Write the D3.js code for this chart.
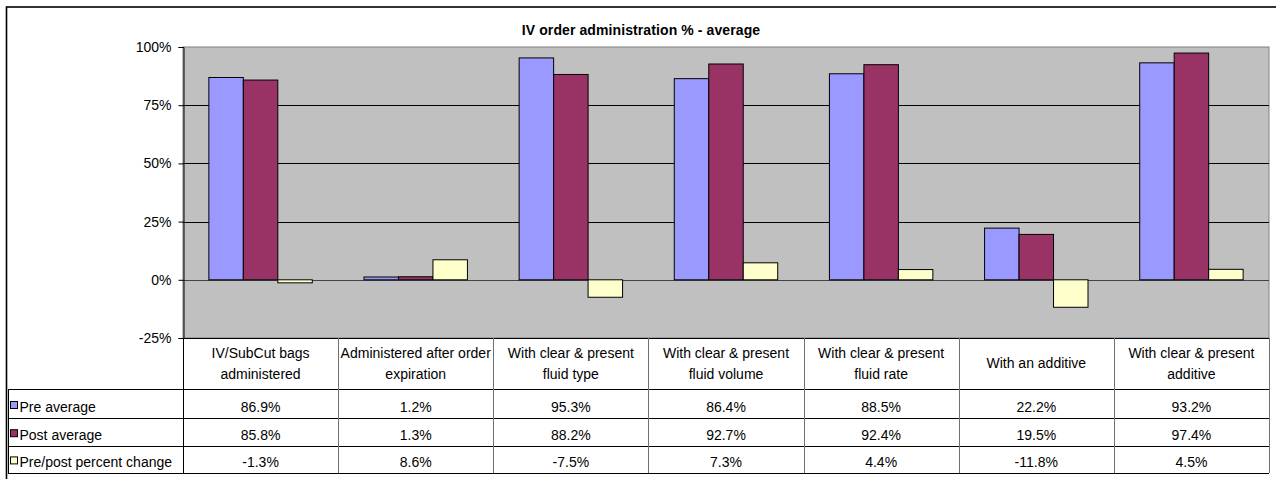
<!DOCTYPE html>
<html>
<head>
<meta charset="utf-8">
<script src="https://cdn.jsdelivr.net/npm/d3@7"></script>
<style>
  html, body { margin: 0; padding: 0; background: #fff; }
  svg { display: block; }
  text { font-family: "Liberation Sans", Arial, sans-serif; fill: #000; }
</style>
</head>
<body>
<svg id="chart" width="1276" height="479"></svg>
<script>
// Categories (header lines of the data table)
const categories = [
  ["IV/SubCut bags", "administered"],
  ["Administered after order", "expiration"],
  ["With clear & present", "fluid type"],
  ["With clear & present", "fluid volume"],
  ["With clear & present", "fluid rate"],
  ["With an additive"],
  ["With clear & present", "additive"]
];
const seriesNames = ["Pre average", "Post average", "Pre/post percent change"];
const preAverage  = [86.9, 1.2, 95.3, 86.4, 88.5, 22.2, 93.2];
const postAverage = [85.8, 1.3, 88.2, 92.7, 92.4, 19.5, 97.4];
const pctChange   = [-1.3, 8.6, -7.5, 7.3, 4.4, -11.8, 4.5];
const yTicks = [-25, 0, 25, 50, 75, 100];
const colors = ["#9999FF", "#993366", "#FFFFCC"];
const title = "IV order administration % - average";

const series = [preAverage, postAverage, pctChange];
const catKeys = categories.map(c => c.join(" "));

const svg = d3.select("#chart");
const plot = { left: 183, right: 1269, top: 47, bottom: 338 };
const rowLines = [389, 418, 446, 473];
const tableLeft = 8;
const fontSize = 14;

// outer chart frame
svg.append("rect")
  .attr("x", 6.5).attr("y", 7).attr("width", 1300).attr("height", 500)
  .attr("fill", "#fff").attr("stroke", "#000").attr("stroke-width", 1.6);

// title
svg.append("text")
  .attr("x", 641).attr("y", 35)
  .attr("text-anchor", "middle")
  .attr("font-weight", "bold")
  .attr("font-size", 14)
  .attr("letter-spacing", "0.1px")
  .text(title);

const y = d3.scaleLinear().domain([-25, 100]).range([plot.bottom, plot.top]);
const x = d3.scaleBand().domain(catKeys).range([plot.left, plot.right]).padding(0);
const xs = d3.scaleBand().domain(d3.range(series.length))
  .range([0, x.bandwidth()]).paddingInner(0).paddingOuter(0.75);

// plot area
svg.append("rect")
  .attr("x", plot.left).attr("y", plot.top)
  .attr("width", plot.right - plot.left).attr("height", plot.bottom - plot.top)
  .attr("fill", "#C0C0C0").attr("stroke", "#808080").attr("stroke-width", 1);

// gridlines
svg.append("g").selectAll("line")
  .data(yTicks.filter(t => t > -25 && t < 100))
  .join("line")
  .attr("x1", plot.left).attr("x2", plot.right)
  .attr("y1", d => Math.round(y(d)) + 0.5).attr("y2", d => Math.round(y(d)) + 0.5)
  .attr("stroke", d => d === 0 ? "#444" : "#000").attr("stroke-width", 1);

// bars
const groups = svg.append("g").selectAll("g")
  .data(catKeys)
  .join("g")
  .attr("transform", d => `translate(${x(d)},0)`);

groups.selectAll("rect")
  .data((d, i) => series.map((s, si) => ({ si, v: s[i] })))
  .join("rect")
  .attr("x", d => xs(d.si))
  .attr("width", xs.bandwidth())
  .attr("y", d => y(Math.max(0, d.v)))
  .attr("height", d => Math.abs(y(d.v) - y(0)))
  .attr("fill", d => colors[d.si])
  .attr("stroke", "#000").attr("stroke-width", 1);

// y axis
const yAxis = d3.axisLeft(y)
  .tickValues(yTicks)
  .tickSize(5)
  .tickPadding(7)
  .tickFormat(d => d + "%");
const ag = svg.append("g").attr("transform", `translate(${plot.left + 0.5},0)`).call(yAxis);
ag.select(".domain").attr("stroke", "#000");
ag.selectAll(".tick line").attr("stroke", "#000");
ag.selectAll(".tick text")
  .attr("font-size", fontSize)
  .attr("font-family", "Liberation Sans, Arial, sans-serif")
  .attr("fill", "#000");

// data table
const tbl = svg.append("g");
// horizontal row lines
tbl.selectAll("line.h")
  .data(rowLines)
  .join("line")
  .attr("class", "h")
  .attr("x1", tableLeft).attr("x2", plot.right)
  .attr("y1", d => d + 0.5).attr("y2", d => d + 0.5)
  .attr("stroke", "#000");
// top line of the table (under the plot)
tbl.append("line")
  .attr("x1", plot.left).attr("x2", plot.right)
  .attr("y1", plot.bottom + 0.5).attr("y2", plot.bottom + 0.5)
  .attr("stroke", "#000");
// vertical column lines
const colEdges = catKeys.map(k => x(k)).concat([plot.right]);
tbl.selectAll("line.v")
  .data(colEdges)
  .join("line")
  .attr("class", "v")
  .attr("x1", d => Math.round(d) + 0.5).attr("x2", d => Math.round(d) + 0.5)
  .attr("y1", plot.bottom).attr("y2", rowLines[rowLines.length - 1])
  .attr("stroke", (d, i) => i === 0 ? "#000" : "#707070");
tbl.append("line")
  .attr("x1", tableLeft + 0.5).attr("x2", tableLeft + 0.5)
  .attr("y1", rowLines[0]).attr("y2", rowLines[rowLines.length - 1])
  .attr("stroke", "#000");

// header labels
const header = tbl.append("g").selectAll("text")
  .data(categories)
  .join("text")
  .attr("x", (d, i) => x(catKeys[i]) + x.bandwidth() / 2)
  .attr("text-anchor", "middle")
  .attr("font-size", fontSize);
header.each(function (lines) {
  const t = d3.select(this);
  const base = lines.length === 1 ? 368 : 357.5;
  lines.forEach((ln, li) => {
    t.append("tspan")
      .attr("x", t.attr("x"))
      .attr("y", base + li * 21.5)
      .text(ln);
  });
});

// value rows
series.forEach((s, si) => {
  const rowTop = rowLines[si];
  const base = rowTop + 23 - si * 0.8;
  // legend key
  tbl.append("rect")
    .attr("x", 10.5).attr("y", base - 10.5)
    .attr("width", 7).attr("height", 7)
    .attr("fill", colors[si]).attr("stroke", "#000").attr("stroke-width", 1);
  tbl.append("text")
    .attr("x", 19.5).attr("y", base)
    .attr("font-size", fontSize)
    .text(seriesNames[si]);
  tbl.append("g").selectAll("text")
    .data(s)
    .join("text")
    .attr("x", (d, i) => x(catKeys[i]) + x.bandwidth() / 2)
    .attr("y", base)
    .attr("text-anchor", "middle")
    .attr("font-size", fontSize)
    .text(d => d.toFixed(1) + "%");
});
</script>
</body>
</html>
